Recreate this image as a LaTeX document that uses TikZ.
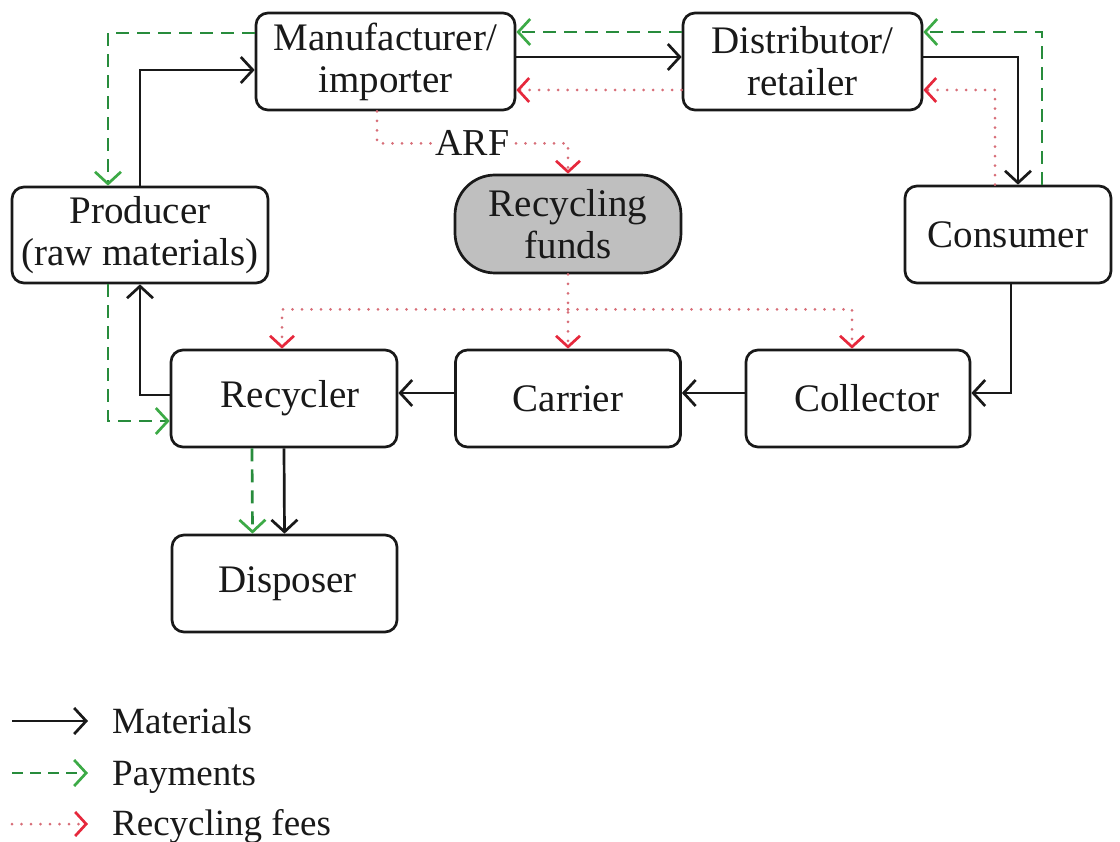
\documentclass[tikz,border=0pt]{standalone}
\usepackage{fontspec}
\setmainfont{Liberation Serif}
\usetikzlibrary{arrows.meta}
\definecolor{pgreen}{RGB}{40,140,60}
\definecolor{pgreenA}{RGB}{60,170,70}
\definecolor{fdot}{RGB}{215,110,120}
\definecolor{fred}{RGB}{230,40,60}
\definecolor{ink}{RGB}{25,25,25}
\tikzset{
  box/.style={draw=ink, line width=2.7pt, rounded corners=12pt, align=center, inner sep=0pt,
    font=\fontsize{39pt}{42pt}\selectfont, text=ink},
  fundbox/.style={box, rounded corners=40pt, fill=black!25},
  mat/.style={draw=ink, line width=2.7pt, -{Straight Barb[length=12pt,width=26pt,line width=2.7pt]}},
  pay/.style={draw=pgreen, line width=2.7pt, dash pattern=on 13pt off 8pt,
    -{Straight Barb[length=12pt,width=26pt,color=pgreenA,line width=2.7pt]}},
  fee/.style={draw=fdot, line width=3pt, line cap=round, dash pattern=on 0pt off 9.5pt,
    -{Straight Barb[length=11pt,width=24pt,color=fred,line width=2.7pt]}},
  legtext/.style={anchor=base west, inner sep=0pt, font=\fontsize{37pt}{42pt}\selectfont, text=ink},
}
\begin{document}
\begin{tikzpicture}[x=1pt,y=-1pt]
\useasboundingbox (0,0) rectangle (1120,842);
% nodes
\node[box, minimum width=259pt, minimum height=97pt] (man) at (385.5,61.5) {Manufacturer/\\importer};
\node[box, minimum width=239pt, minimum height=97pt] (dist) at (802.5,61.5) {Distributor/\\retailer};
\node[box, minimum width=256pt, minimum height=96pt] (prod) at (140,235) {Producer\\(raw materials)};
\node[fundbox, minimum width=226pt, minimum height=98pt] (fund) at (568,224) {Recycling\\funds};
\node[box, minimum width=206pt, minimum height=97pt] (cons) at (1008,234.5) {Consumer};
\node[box, minimum width=226pt, minimum height=97pt] (rec) at (284,398.5) {\hspace*{12pt}Recycler};
\node[box, minimum width=225pt, minimum height=97pt] (car) at (568,398.5) {Carrier};
\node[box, minimum width=224pt, minimum height=97pt] (col) at (858,398.5) {\hspace*{18pt}Collector};
\node[box, minimum width=225pt, minimum height=97pt] (disp) at (284.5,583.5) {\hspace*{6pt}Disposer};

% materials
\draw[mat] (prod.north) |- ([yshift=-8.5pt]man.west);
\draw[mat] ([yshift=4.5pt]man.east) -- ([yshift=4.5pt]dist.west);
\draw[mat] ([yshift=4.5pt]dist.east) -| ([xshift=10pt]cons.north);
\draw[mat] ([xshift=3pt]cons.south) |- ([yshift=5.5pt]col.east);
\draw[mat] ([yshift=5.5pt]col.west) -- ([yshift=5.5pt]car.east);
\draw[mat] ([yshift=5.5pt]car.west) -- ([yshift=5.5pt]rec.east);
\draw[mat] ([yshift=3.5pt]rec.west) -| (prod.south);
\draw[mat] (rec.south) -- (disp.north);

% payments
\draw[pay] ([yshift=28.5pt]man.west) -| ([xshift=-32pt]prod.north);
\draw[pay] ([yshift=29.5pt]dist.west) -- ([yshift=29.5pt]man.east);
\draw[pay] ([xshift=34pt]cons.north) |- ([yshift=29.5pt]dist.east);
\draw[pay] ([xshift=-32pt]prod.south) |- ([yshift=-22.5pt]rec.west);
\draw[pay] ([xshift=-32pt]rec.south) -- ([xshift=-32pt]disp.north);

% recycling fees
\draw[fee] ([yshift=-28.5pt]dist.west) -- ([yshift=-28.5pt]man.east);
\draw[fee] ([xshift=-13pt]cons.north) |- ([yshift=-28.5pt]dist.east);
\coordinate (arfL) at ([xshift=-8.5pt,yshift=-32pt]man.south);
\draw[fee] ([xshift=-8.5pt]man.south) -- (arfL) -| node[pos=0.25, fill=white, inner sep=2pt, text=ink,
   font=\fontsize{38pt}{42pt}\selectfont] (arf) {ARF} (fund.north);
\coordinate (fj) at ([yshift=-35pt]fund.south);
\draw[fee] (fund.south) -- (car.north);
\draw[fee] (fj) -| ([xshift=-2pt]rec.north);
\draw[fee] (fj) -| ([xshift=-6pt]col.north);

% legend
\coordinate (l1s) at (12,721); \coordinate (l1e) at (88,721);
\coordinate (l2s) at (12,773); \coordinate (l2e) at (88,773);
\coordinate (l3s) at (12,824); \coordinate (l3e) at (88,824);
\draw[mat] (l1s) -- (l1e);
\draw[pay, dash pattern=on 11pt off 7pt] (l2s) -- (l2e);
\draw[fee] (l3s) -- (l3e);
\node[legtext] (lt1) at (112,733) {Materials};
\node[legtext] (lt2) at (112,785) {Payments};
\node[legtext] (lt3) at (112,835) {Recycling fees};
\end{tikzpicture}
\end{document}
